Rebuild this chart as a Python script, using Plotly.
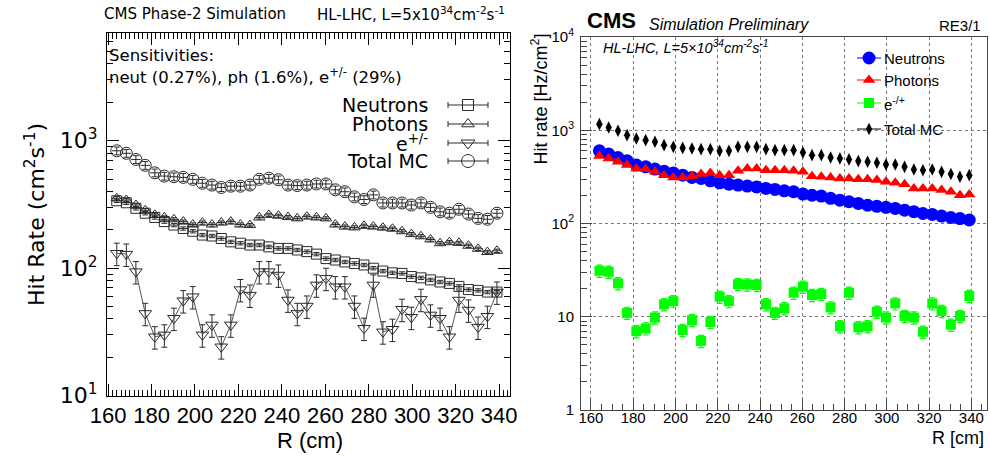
import plotly.graph_objects as go

# Radial bin centres in cm (shared by both panels)
r_bins = [164.0, 168.4, 172.8, 177.1, 181.5, 185.9, 190.3, 194.6, 199.0, 203.4,
          207.8, 212.1, 216.5, 220.9, 225.3, 229.6, 234.0, 238.4, 242.8, 247.1,
          251.5, 255.9, 260.3, 264.6, 269.0, 273.4, 277.8, 282.1, 286.5, 290.9,
          295.3, 299.6, 304.0, 308.4, 312.8, 317.1, 321.5, 325.9, 330.3, 334.6, 339.0]

# Phase-2 simulation: hit rates in cm^-2 s^-1
p2_neutrons = [338, 326, 295, 270, 250, 232, 218, 205, 195, 182, 179, 171, 161, 157, 152,
               152, 147, 143, 143, 139, 135, 129, 119, 116, 112, 109, 106, 100, 95, 92,
               91, 86, 84, 81, 78, 76, 72, 68, 67, 65, 65]
p2_photons = [354, 343, 313, 285, 262, 250, 242, 232, 220, 228, 220, 228, 232, 220, 218,
              250, 262, 258, 252, 246, 254, 250, 246, 220, 212, 209, 215, 212, 208, 204,
              195, 185, 178, 168, 157, 160, 158, 150, 142, 134, 137]
p2_electrons = [131, 129, 94, 44.2, 29, 30, 40.5, 55.6, 59.8, 30, 35.9, 24.2, 35.9, 68, 61.5,
                94, 94, 88.4, 56.3, 44.2, 50.5, 73.9, 83.3, 71.6, 71.6, 50.5, 33.8, 73.9, 31.7, 33.2,
                47.6, 41.2, 57, 43, 40.5, 29, 56.3, 47, 34.5, 42, 65]
p2_total = [834, 797, 713, 641, 560, 528, 522, 516, 498, 464, 449, 430, 440, 440, 449,
            498, 508, 494, 449, 445, 449, 458, 458, 412, 398, 363, 346, 376, 325, 325,
            325, 313, 325, 300, 277, 270, 290, 266, 246, 242, 270]

# RE3/1 preliminary: hit rates in Hz/cm^2
re_neutrons = [601, 555, 510, 470, 423, 405, 383, 364, 349, 330, 312, 304, 287, 273, 264,
               258, 252, 247, 238, 232, 224, 219, 207, 201, 197, 186, 178, 171, 164, 157,
               153, 149, 145, 139, 134, 128, 125, 120, 116, 113, 109]
re_photons = [528, 499, 459, 423, 390, 383, 358, 330, 312, 312, 322, 339, 349, 330, 330,
              367, 390, 390, 373, 373, 373, 367, 358, 322, 317, 312, 304, 304, 299, 299,
              292, 280, 273, 264, 238, 238, 238, 228, 219, 201, 205]
re_electrons = [31.1, 30.4, 22.8, 11.0, 7.0, 7.5, 9.8, 13.6, 14.7, 7.2, 9.2, 5.5, 8.8, 16.4, 14.7,
                22.4, 22.2, 21.9, 13.6, 11.0, 12.3, 18.1, 21.0, 17.1, 17.5, 12.6, 7.9, 18.1, 7.7, 7.9,
                11.3, 9.8, 13.9, 10.2, 9.8, 6.9, 13.9, 11.5, 8.2, 10.2, 16.7]
re_total = [1162, 1072, 986, 886, 816, 783, 752, 692, 664, 647, 638, 627, 627, 601, 601,
            664, 664, 664, 627, 612, 612, 612, 578, 541, 541, 510, 499, 487, 467, 459,
            448, 430, 430, 405, 380, 373, 380, 358, 339, 317, 330]

# Relative statistical uncertainties
rel_err_p2 = {"neut": 0.03, "ph": 0.03, "e": 0.20, "tot": 0.07}
rel_err_re_e = 0.15
half_bin = 2.19

x_ticks = [160, 180, 200, 220, 240, 260, 280, 300, 320, 340]
left_y_ticks = [10, 100, 1000]
left_y_text = ["10<sup>1</sup>", "10<sup>2</sup>", "10<sup>3</sup>"]
right_y_ticks = [1, 10, 100, 1000, 10000]
right_y_text = ["1", "10", "10<sup>2</sup>", "10<sup>3</sup>", "10<sup>4</sup>"]
log_minor = [m * 10 ** d for d in range(0, 4) for m in range(2, 10)]

W, H = 990, 456
INK = "#2a2a2a"
LEFT_FONT = "DejaVu Sans"
RIGHT_FONT = "Liberation Sans"
CLEAR = "rgba(0,0,0,0)"

fig = go.Figure()


def errs(vals, rel):
    return [v * rel for v in vals]


# ---- left panel ----
left_series = [
    ("Neutrons", p2_neutrons, "square-open", "neut", 10),
    ("Photons", p2_photons, "triangle-up-open", "ph", 10),
    ("e+/-", p2_electrons, "triangle-down-open", "e", 11),
    ("Total MC", p2_total, "circle-open", "tot", 12),
]
for name, vals, sym, key, size in left_series:
    is_e = key == "e"
    fig.add_trace(go.Scatter(
        x=r_bins, y=vals, name=name, xaxis="x", yaxis="y",
        mode="lines+markers" if is_e else "markers",
        line=dict(color="#555555", width=1),
        marker=dict(symbol=sym, size=size, color=INK, line=dict(width=1, color=INK)),
        error_y=dict(type="data", array=errs(vals, rel_err_p2[key]), color=INK,
                     thickness=1, width=3),
        error_x=dict(type="constant", value=0 if is_e else half_bin, color=INK,
                     thickness=1, width=0),
        showlegend=False,
    ))

# ---- right panel ----
right_series = [
    ("Neutrons", re_neutrons, "circle", "#0000ff", 13),
    ("Photons", re_photons, "triangle-up", "#ff0000", 11),
    ("e-/+", re_electrons, "square", "#00ff00", 10),
    ("Total MC", re_total, "diamond-tall", "#000000", 9),
]
for name, vals, sym, col, size in right_series:
    err = dict(type="data", array=errs(vals, rel_err_re_e), color=col, thickness=1.2,
               width=3) if name == "e-/+" else None
    fig.add_trace(go.Scatter(
        x=r_bins, y=vals, name=name, xaxis="x2", yaxis="y2", mode="markers",
        marker=dict(symbol=sym, size=size, color=col, line=dict(width=0)),
        error_y=err, showlegend=False,
    ))

# ---- hand-drawn legends on a pixel overlay ----
left_leg_rows = [105, 124, 143, 161]
for (name, vals, sym, key, size), yy in zip(left_series, left_leg_rows):
    fig.add_trace(go.Scatter(
        x=[468], y=[yy], xaxis="x3", yaxis="y3", mode="markers",
        marker=dict(symbol=sym, size=size + 1, color=INK, line=dict(width=1, color=INK)),
        error_x=dict(type="constant", value=20, color=INK, thickness=1, width=3),
        showlegend=False, hoverinfo="skip",
    ))
left_leg_text = ["Neutrons", "Photons", "e<sup>+/-</sup>", "Total MC"]

right_leg_rows = [58, 80, 103, 129]
for (name, vals, sym, col, size), yy in zip(right_series, right_leg_rows):
    fig.add_trace(go.Scatter(
        x=[869], y=[yy], xaxis="x3", yaxis="y3", mode="markers",
        marker=dict(symbol=sym, size=size, color=col, line=dict(width=0)),
        error_x=dict(type="constant", value=12, color=col, thickness=1, width=0),
        showlegend=False, hoverinfo="skip",
    ))
right_leg_text = ["Neutrons", "Photons", "e<sup>-/+</sup>", "Total MC"]

ann = []


def txt(x, y, s, size, family, xanchor="left", yanchor="middle", angle=0, color="#000"):
    ann.append(dict(x=x, y=y, xref="x3", yref="y3", text=s, showarrow=False,
                    xanchor=xanchor, yanchor=yanchor, textangle=angle, borderpad=0,
                    font=dict(size=size, family=family, color=color)))


# left panel texts
txt(103, 14, "CMS Phase-2 Simulation", 15, LEFT_FONT)
txt(316, 14, "HL-LHC, L=5x10<sup>34</sup>cm<sup>-2</sup>s<sup>-1</sup>", 15, LEFT_FONT)
txt(108, 55, "Sensitivities:", 16.5, LEFT_FONT)
txt(108, 76, "neut (0.27%), ph (1.6%), e<sup>+/-</sup> (29%)", 16.5, LEFT_FONT)
for s, yy in zip(left_leg_text, left_leg_rows):
    txt(429, yy, s, 19, LEFT_FONT, xanchor="right")
txt(35, 215, "Hit Rate (cm<sup>2</sup>s<sup>-1</sup>)", 22, LEFT_FONT, xanchor="center",
    yanchor="middle", angle=-90)
txt(310, 440, "R (cm)", 22, RIGHT_FONT, xanchor="center")

# right panel texts
txt(586, 20, "<b>CMS</b>", 22, RIGHT_FONT)
txt(648, 24, "<i>Simulation Preliminary</i>", 16, RIGHT_FONT)
txt(982, 25, "RE3/1", 15, RIGHT_FONT, xanchor="right")
txt(602, 47, "<i>HL-LHC, L=5×10<sup>34</sup>cm<sup>-2</sup>s<sup>-1</sup></i>", 14.5, RIGHT_FONT)
for s, yy in zip(right_leg_text, right_leg_rows):
    txt(883, yy, s, 15, RIGHT_FONT)
txt(540, 33, "Hit rate [Hz/cm<sup>2</sup>]", 18, RIGHT_FONT, xanchor="center", yanchor="top",
    angle=-90)
txt(985, 438, "R [cm]", 18, RIGHT_FONT, xanchor="right")

fig.update_layout(
    width=W, height=H, autosize=False,
    margin=dict(l=0, r=0, t=0, b=0, pad=0),
    paper_bgcolor="white", plot_bgcolor=CLEAR,
    showlegend=False,
    annotations=ann,
    xaxis=dict(
        domain=[107 / W, 510 / W], range=[159.5, 345], anchor="y", automargin=False,
        tickvals=x_ticks, ticks="inside", ticklen=12, tickcolor="#000", tickangle=0,
        showline=True, linecolor="#000", linewidth=1, mirror="ticks",
        showgrid=False, zeroline=False, ticklabelstandoff=0,
        minor=dict(dtick=2, ticks="inside", ticklen=6, tickcolor="#000", showgrid=False),
        tickfont=dict(size=22, family=RIGHT_FONT, color="#000"),
    ),
    yaxis=dict(
        type="log", domain=[(H - 395.7) / H, (H - 33) / H], range=[1, 3.845], anchor="x",
        automargin=False, ticklabelstandoff=4,
        tickvals=left_y_ticks, ticktext=left_y_text, ticks="inside", ticklen=12,
        tickcolor="#000", showline=True, linecolor="#000", linewidth=1, mirror="ticks",
        showgrid=False, zeroline=False,
        minor=dict(tickvals=log_minor, ticks="inside", ticklen=6, tickcolor="#000",
                   showgrid=False),
        tickfont=dict(size=22, family=LEFT_FONT, color="#000"),
    ),
    xaxis2=dict(
        domain=[581 / W, 987 / W], range=[155.3, 347.4], anchor="y2", automargin=False,
        tickvals=x_ticks, ticks="inside", ticklen=11, tickcolor="#444", tickangle=0,
        showline=True, linecolor="#444", linewidth=1, mirror=True, ticklabelstandoff=-6,
        showgrid=True, gridcolor="#777", gridwidth=1, griddash="dot", zeroline=False,
        minor=dict(dtick=5, ticks="inside", ticklen=6, tickcolor="#444", showgrid=False),
        tickfont=dict(size=15, family=RIGHT_FONT, color="#000"),
    ),
    yaxis2=dict(
        type="log", domain=[(H - 410) / H, (H - 37) / H], range=[0, 4], anchor="x2",
        automargin=False, ticklabelstandoff=3,
        tickvals=right_y_ticks, ticktext=right_y_text, ticks="inside", ticklen=11,
        tickcolor="#444", showline=True, linecolor="#444", linewidth=1, mirror=True,
        showgrid=True, gridcolor="#777", gridwidth=1, griddash="dot", zeroline=False,
        minor=dict(tickvals=log_minor, ticks="inside", ticklen=6, tickcolor="#444",
                   showgrid=False),
        tickfont=dict(size=15, family=RIGHT_FONT, color="#000"),
    ),
    xaxis3=dict(domain=[0, 1], range=[0, W], visible=False, anchor="y3",
                fixedrange=True, automargin=False),
    yaxis3=dict(domain=[0, 1], range=[H, 0], visible=False, anchor="x3",
                fixedrange=True, automargin=False),
)

fig.write_html("out.html")
